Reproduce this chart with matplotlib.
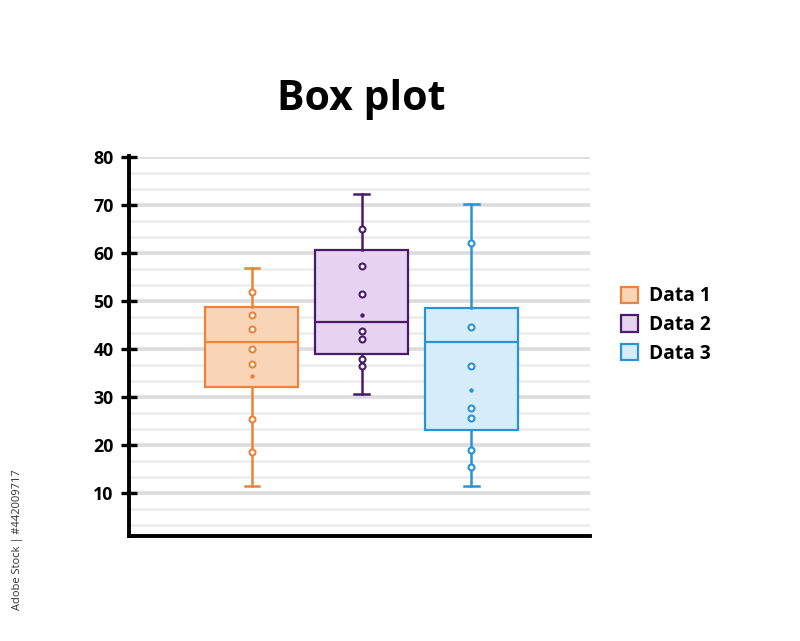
import matplotlib
matplotlib.use("Agg")
import matplotlib.pyplot as plt
from matplotlib.patches import Patch
import numpy as np

names = ["Data 1", "Data 2", "Data 3"]
whislo = [11.5, 30.5, 11.5]
q1 = [32.0, 38.9, 23.0]
med = [41.4, 45.7, 41.4]
q3 = [48.7, 60.6, 48.6]
whishi = [56.8, 72.2, 70.2]
points = [
    [51.8, 47.1, 44.2, 40.0, 36.9, 25.4, 18.6],
    [64.9, 57.2, 51.4, 43.8, 42.0, 37.8, 36.4],
    [62.0, 44.5, 36.4, 27.7, 25.5, 19.0, 15.4],
]
means = [34.3, 47.0, 31.4]
yticks = [10, 20, 30, 40, 50, 60, 70, 80]

edge_colors = ["#e8843c", "#4a1a6b", "#2a93d5"]
fill_colors = ["#f9d4b6", "#e5d3f1", "#d6ecf9"]

plt.rcParams['font.family'] = ['Open Sans', 'DejaVu Sans']

fig = plt.figure(figsize=(8, 6.41), dpi=100)
ax = fig.add_axes([129/800, 1-536/641, (590-129)/800, (536-157)/641])

ymin, ymax = 1.0, 80.0
# gridlines: darker at tick values, lighter in between
for k, g in enumerate(np.arange(80, ymin, -10/3)):
    if k % 3 == 0:
        ax.axhline(g, color="#dcdcdc", lw=2.6, zorder=0)
    else:
        ax.axhline(g, color="#ececec", lw=1.8, zorder=0)

positions = [1, 2, 3]
for i in range(3):
    st = [dict(label=names[i], whislo=whislo[i], q1=q1[i], med=med[i],
               q3=q3[i], whishi=whishi[i], fliers=[])]
    ec = edge_colors[i]
    ax.bxp(st, positions=[positions[i]], widths=0.845, patch_artist=True,
           showfliers=False, capwidths=0.13,
           boxprops=dict(facecolor=fill_colors[i], edgecolor=ec, linewidth=1.6),
           medianprops=dict(color=ec, linewidth=1.6),
           whiskerprops=dict(color=ec, linewidth=1.8),
           capprops=dict(color=ec, linewidth=1.8), zorder=2)
    ax.plot([positions[i]] * len(points[i]), points[i], 'o', ms=4.3,
            mfc="white", mec=ec, mew=1.5, zorder=4, linestyle='none')
    ax.plot([positions[i]], [means[i]], 'o', ms=2.6, mfc=ec, mec=ec,
            mew=0.5, zorder=4)

ax.set_xlim(-0.118, 4.08)
ax.set_ylim(ymin, ymax)
ax.set_yticks(yticks)
ax.set_yticklabels([str(t) for t in yticks], fontsize=12.8, fontweight="bold")
ax.set_xticks([])
for s in ["top", "right"]:
    ax.spines[s].set_visible(False)
ax.spines["left"].set_linewidth(2.8)
ax.spines["bottom"].set_linewidth(2.8)
ax.spines["left"].set_bounds(ymin, ymax + 0.3)
ax.tick_params(axis="y", direction="inout", length=12, width=2.4, pad=5)
ax.set_facecolor("none")

fig.text(361/800, 1-100/641, "Box plot", ha="center", va="center",
         fontsize=29.5, fontweight="bold")

handles = [Patch(facecolor=fill_colors[i], edgecolor=edge_colors[i], lw=1.6,
                 label=names[i]) for i in range(3)]
leg = fig.legend(handles=handles, loc="center left",
                 bbox_to_anchor=(604/800, 1-325/641), frameon=False,
                 prop=dict(size=13.8, weight="bold"), handlelength=0.85,
                 handleheight=0.95, handletextpad=0.6, labelspacing=0.45)

fig.text(18/800, 1-540/641, "Adobe Stock | #442009717", rotation=90,
         ha="center", va="center", fontsize=8, color="#333333")

fig.savefig("out.png", dpi=100, facecolor="white")
